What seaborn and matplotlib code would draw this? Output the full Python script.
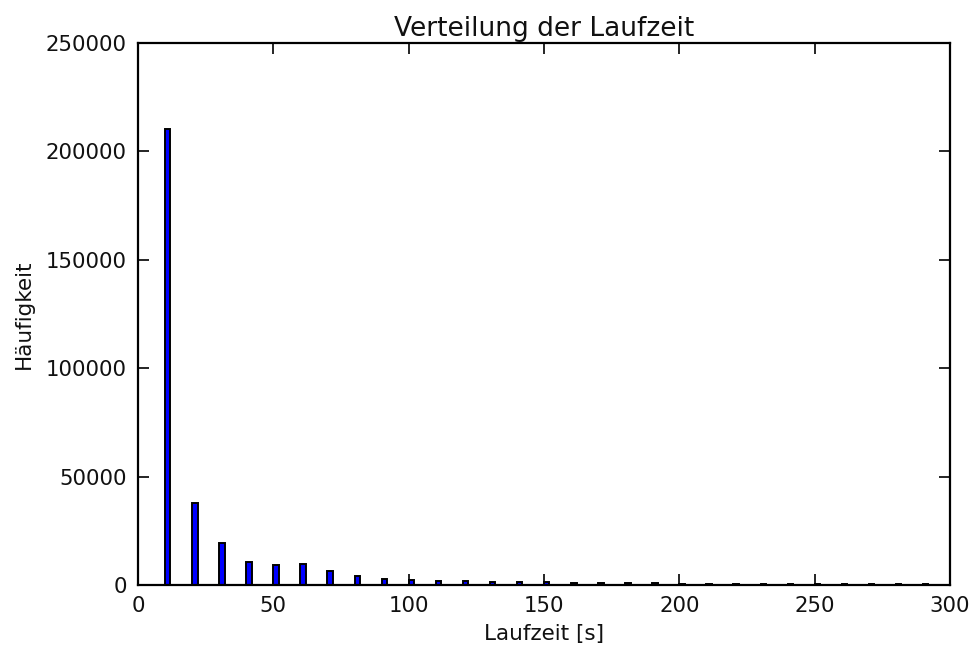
import numpy as np
import pandas as pd
import matplotlib
matplotlib.use("Agg")
import matplotlib.pyplot as plt
import seaborn as sns

# Data
laufzeit = [10, 20, 30, 40, 50, 60, 70, 80, 90, 100, 110, 120, 130, 140, 150,
            160, 170, 180, 190, 200, 210, 220, 230, 240, 250, 260, 270, 280, 290]
haeufigkeit = [210500, 37600, 19200, 10600, 9200, 9500, 6400, 4200, 2800, 2200,
               2000, 1800, 1600, 1300, 1200, 1000, 900, 800, 700, 650,
               600, 550, 500, 450, 400, 400, 350, 300, 300]
x_ticks = [0, 50, 100, 150, 200, 250, 300]
y_ticks = [0, 50000, 100000, 150000, 200000, 250000]

title = "Verteilung der Laufzeit"
xlabel = "Laufzeit [s]"
ylabel = "Häufigkeit"

bar_width = 2.0  # in seconds, bars start at the bin value (edge aligned)

sns.set_style("ticks")
plt.rcParams['font.family'] = ['DejaVu Sans']

df = pd.DataFrame({"laufzeit": laufzeit, "haeufigkeit": haeufigkeit})
df["pos"] = df["laufzeit"] + bar_width / 2

fig = plt.figure(figsize=(9.74, 6.48), dpi=100)
ax = fig.add_axes([0.1417, 0.0972, 0.9754 - 0.1417, 0.9336 - 0.0972])

sns.barplot(data=df, x="pos", y="haeufigkeit", native_scale=True,
            width=bar_width / 10, color="#0000ff", saturation=1,
            edgecolor="black", linewidth=1.4, errorbar=None, ax=ax)

ax.set_xlim(0, 300)
ax.set_ylim(0, 250000)
ax.set_xticks(x_ticks)
ax.set_yticks(y_ticks)
ax.set_xticklabels([str(t) for t in x_ticks])
ax.set_yticklabels([str(t) for t in y_ticks])

for s in ax.spines.values():
    s.set_visible(True)
    s.set_linewidth(1.6)
    s.set_color("black")

ax.tick_params(direction="in", top=True, right=True, length=8, width=1.2,
               labelsize=15.3, pad=8, colors="black", labelcolor="#111111")

ax.set_title(title, fontsize=19, pad=5, color="#111111")
ax.set_xlabel(xlabel, fontsize=15.5, labelpad=6, color="#111111")
ax.set_ylabel(ylabel, fontsize=15.5, labelpad=9, color="#111111")

fig.savefig("out.png", dpi=100, facecolor="white")
